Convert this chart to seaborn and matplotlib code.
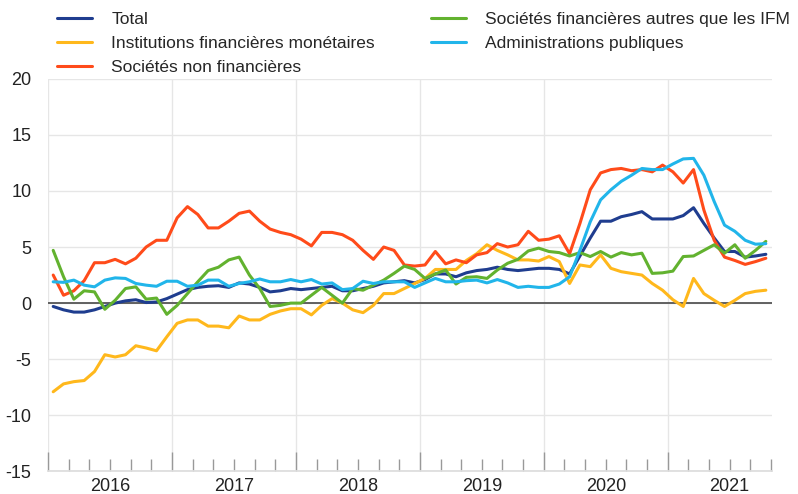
import matplotlib
matplotlib.use("Agg")
import matplotlib.pyplot as plt
import seaborn as sns
import numpy as np
import pandas as pd

# monthly data, Jan 2016 - Oct 2021 (annual growth, %)
start_year = 2016
total = [-0.3, -0.6, -0.8, -0.8, -0.6, -0.3, 0.0, 0.2, 0.3, 0.05, 0.1, 0.4,
         0.8, 1.2, 1.4, 1.5, 1.55, 1.4, 1.8, 1.7, 1.4, 1.0, 1.1, 1.3,
         1.2, 1.3, 1.4, 1.5, 1.1, 1.1, 1.3, 1.5, 1.8, 1.9, 2.0, 1.8,
         2.1, 2.6, 2.6, 2.35, 2.7, 2.9, 3.0, 3.2, 3.0, 2.9, 3.0, 3.1,
         3.1, 3.0, 2.6, 4.2, 5.8, 7.3, 7.3, 7.7, 7.9, 8.15, 7.5, 7.5,
         7.5, 7.8, 8.5, 7.1, 5.8, 4.6, 4.6, 4.1, 4.2, 4.35]
ifm = [-7.9, -7.2, -7.0, -6.9, -6.1, -4.6, -4.8, -4.6, -3.8, -4.0, -4.25, -3.0,
       -1.8, -1.5, -1.5, -2.05, -2.05, -2.2, -1.15, -1.5, -1.5, -1.0, -0.7, -0.5,
       -0.5, -1.05, -0.2, 0.4, 0.0, -0.6, -0.85, -0.2, 0.85, 0.85, 1.3, 1.75,
       2.2, 3.0, 3.0, 3.0, 3.8, 4.4, 5.2, 4.7, 4.3, 3.85, 3.85, 3.75,
       4.15, 3.7, 1.75, 3.4, 3.25, 4.3, 3.1, 2.8, 2.65, 2.5, 1.75, 1.15,
       0.3, -0.3, 2.2, 0.85, 0.25, -0.3, 0.25, 0.85, 1.05, 1.15]
snf = [2.5, 0.7, 1.1, 2.0, 3.6, 3.6, 3.9, 3.5, 4.0, 5.0, 5.6, 5.6,
       7.6, 8.6, 7.9, 6.7, 6.7, 7.3, 8.0, 8.2, 7.3, 6.6, 6.3, 6.1,
       5.7, 5.1, 6.3, 6.3, 6.1, 5.6, 4.7, 3.9, 5.0, 4.7, 3.4, 3.3,
       3.4, 4.6, 3.5, 3.85, 3.6, 4.3, 4.5, 5.3, 5.0, 5.2, 6.4, 5.6,
       5.7, 6.0, 4.4, 7.1, 10.1, 11.6, 11.9, 12.0, 11.8, 11.9, 11.7, 12.3,
       11.7, 10.7, 11.9, 8.3, 5.6, 4.1, 3.8, 3.45, 3.7, 4.0]
sf_autres = [4.7, 2.35, 0.35, 1.1, 1.0, -0.55, 0.25, 1.3, 1.45, 0.35, 0.45, -1.0,
             -0.2, 0.85, 1.9, 2.9, 3.2, 3.85, 4.1, 2.5, 1.3, -0.3, -0.2, 0.0,
             0.0, 0.7, 1.4, 0.7, 0.0, 1.3, 1.15, 1.6, 2.05, 2.65, 3.3, 3.0,
             2.2, 2.6, 2.95, 1.7, 2.3, 2.35, 2.2, 2.95, 3.55, 3.9, 4.65, 4.9,
             4.6, 4.5, 4.2, 4.5, 4.15, 4.6, 4.1, 4.5, 4.3, 4.45, 2.65, 2.7,
             2.85, 4.15, 4.2, 4.7, 5.2, 4.45, 5.2, 4.0, 4.7, 5.5]
apu = [1.9, 1.85, 2.05, 1.6, 1.45, 2.05, 2.25, 2.2, 1.75, 1.6, 1.5, 1.95,
       1.95, 1.5, 1.6, 2.05, 2.05, 1.5, 1.75, 1.9, 2.15, 1.9, 1.9, 2.1,
       1.9, 2.1, 1.7, 1.8, 1.2, 1.3, 1.95, 1.75, 1.9, 1.9, 1.9, 1.4,
       1.8, 2.2, 1.9, 1.9, 2.0, 2.05, 1.8, 2.1, 1.8, 1.4, 1.5, 1.4,
       1.4, 1.7, 2.35, 4.7, 7.25, 9.2, 10.1, 10.85, 11.4, 12.0, 11.9, 11.9,
       12.4, 12.85, 12.9, 11.4, 9.05, 6.95, 6.4, 5.6, 5.25, 5.3]

series_names = ["Total",
                "Institutions financières monétaires",
                "Sociétés non financières",
                "Sociétés financières autres que les IFM",
                "Administrations publiques"]
colors = ["#1f3d8f", "#ffb81c", "#ff4b1a", "#62b22f", "#21b5ea"]
years = [2016, 2017, 2018, 2019, 2020, 2021]

# month positions as fractional years (mid-month)
n = len(total)
t = start_year + (np.arange(n) + 0.5) / 12

df = pd.concat([
    pd.DataFrame({"t": t, "value": vals, "serie": name})
    for name, vals in zip(series_names, [total, ifm, snf, sf_autres, apu])
])

sns.set_theme(style="white")
plt.rcParams["font.family"] = ["Liberation Sans", "DejaVu Sans"]
plt.rcParams["axes.unicode_minus"] = False

fig = plt.figure(figsize=(7.98, 4.94), dpi=100)
ax = fig.add_axes([0.0602, 0.0457, 0.907, 0.795])

sns.lineplot(data=df, x="t", y="value", hue="serie", hue_order=series_names,
             palette=colors, linewidth=2.2, ax=ax, legend=True)

ax.axhline(0, color="#555555", lw=1.3, zorder=1)

ax.set_ylim(-15, 20)
ax.set_yticks(range(-15, 21, 5))
ax.set_xlim(2016, 2021.84)
ax.set_xticks(years)
ax.set_xticklabels([])
ax.set_xticks(2016 + np.arange(0, 71, 2) / 12, minor=True)
ax.grid(True, which="major", color="#e6e6e6", lw=1)
ax.tick_params(axis="y", length=0, pad=12, labelsize=13, labelcolor="#222222")
ax.tick_params(axis="x", which="major", direction="in", length=14, width=1, color="#999999", bottom=True)
ax.tick_params(axis="x", which="minor", direction="in", length=8.5, width=1, color="#999999", bottom=True)
ax.set_xlabel("")
ax.set_ylabel("")
for s in ["top", "right", "left"]:
    ax.spines[s].set_visible(False)
ax.spines["bottom"].set_color("#dddddd")

# year labels centred in each year
sec = ax.secondary_xaxis("bottom")
sec.set_xticks([y + 0.5 for y in years], labels=[str(y) for y in years])
sec.tick_params(length=0, pad=5, labelsize=13, labelcolor="#222222")
sec.spines["bottom"].set_visible(False)

handles, labels = ax.get_legend_handles_labels()
ax.legend(handles, labels, ncol=2, loc="upper left", bbox_to_anchor=(0.072, 0.976),
          bbox_transform=fig.transFigure, frameon=False, fontsize=12.5,
          handlelength=2.0, handletextpad=1.1, columnspacing=3.25,
          labelspacing=0.52, borderpad=0, borderaxespad=0)

fig.savefig("out.png", dpi=100)
